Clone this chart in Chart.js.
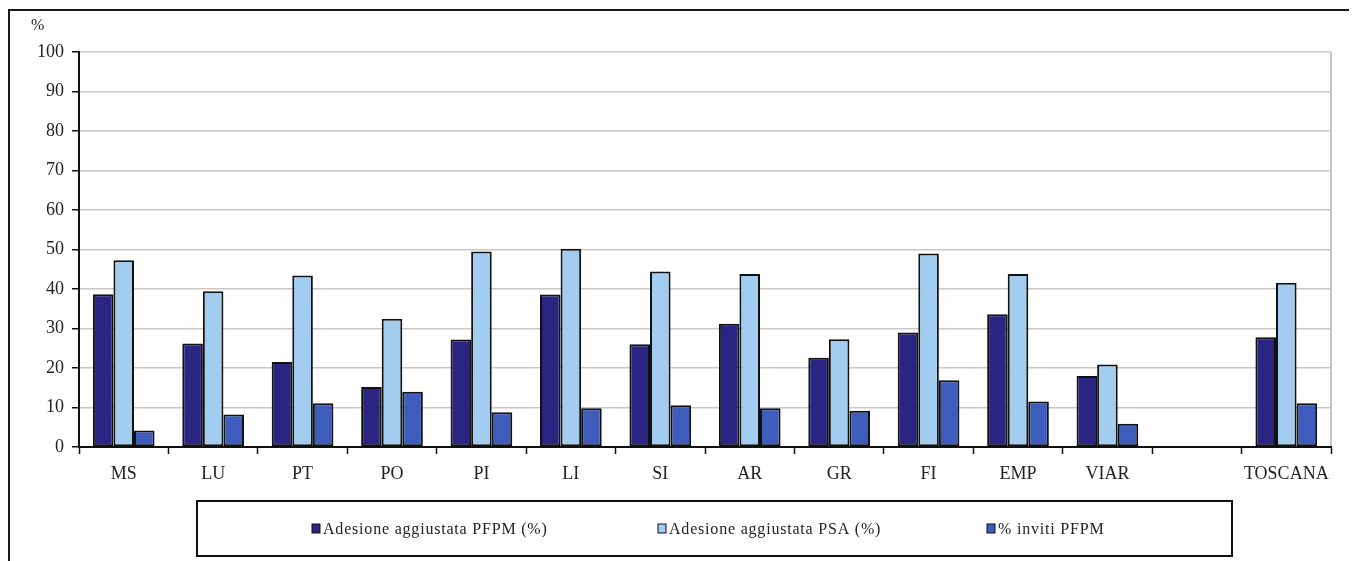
<!DOCTYPE html>
<html>
<head>
<meta charset="utf-8">
<script src="https://cdn.jsdelivr.net/npm/chart.js@4.4.1/dist/chart.umd.min.js"></script>
<style>
  html, body { margin: 0; padding: 0; background: #ffffff; }
  #wrap { position: relative; width: 1355px; height: 561px; }
</style>
</head>
<body>
<div id="wrap"><canvas id="c" width="1355" height="561"></canvas></div>
<script>
// Aree (ASL) con uno spazio vuoto prima del totale regionale
const areas = ['MS', 'LU', 'PT', 'PO', 'PI', 'LI', 'SI', 'AR', 'GR', 'FI', 'EMP', 'VIAR', '', 'TOSCANA'];

// Adesione aggiustata PFPM (%)
const adesionePFPM = [38.7, 26.2, 21.5, 15.2, 27.2, 38.6, 26.0, 31.2, 22.6, 29.0, 33.6, 18.0, null, 27.8];
// Adesione aggiustata PSA (%)
const adesionePSA = [47.3, 39.4, 43.4, 32.5, 49.5, 50.2, 44.4, 43.8, 27.3, 49.0, 43.8, 20.9, null, 41.6];
// % inviti PFPM
const invitiPFPM = [4.2, 8.2, 11.1, 14.0, 8.8, 9.8, 10.6, 9.8, 9.2, 16.9, 11.5, 5.9, null, 11.1];

// Asse Y: 0-100 a passi di 10
const yTicks = [0, 10, 20, 30, 40, 50, 60, 70, 80, 90, 100];

const seriesLabels = ['Adesione aggiustata PFPM (%)', 'Adesione aggiustata PSA (%)', '% inviti PFPM'];
const seriesColors = ['#2a2482', '#a2cdf1', '#3d5cbc'];

const serif = '"Liberation Serif", "DejaVu Serif", serif';

// Cornice esterna, bordo dell'area del grafico, simbolo "%" e legenda in riquadro
const framePlugin = {
  id: 'frame',
  beforeDraw(chart) {
    const ctx = chart.ctx;
    const a = chart.chartArea;
    ctx.save();
    ctx.fillStyle = '#ffffff';
    ctx.fillRect(0, 0, chart.width, chart.height);
    // cornice esterna (lati sinistro e superiore)
    ctx.strokeStyle = '#1a1a1a';
    ctx.lineWidth = 2;
    ctx.beginPath();
    ctx.moveTo(9, chart.height);
    ctx.lineTo(9, 10);
    ctx.lineTo(chart.width - 6, 10);
    ctx.stroke();
    // bordo destro dell'area del grafico
    ctx.strokeStyle = '#b9adad';
    ctx.lineWidth = 1.5;
    ctx.beginPath();
    ctx.moveTo(a.right, a.top);
    ctx.lineTo(a.right, a.bottom);
    ctx.stroke();
    ctx.restore();
  },
  afterDraw(chart) {
    const ctx = chart.ctx;
    ctx.save();
    // unità dell'asse Y
    ctx.fillStyle = '#222';
    ctx.font = '16px ' + serif;
    ctx.textAlign = 'left';
    ctx.textBaseline = 'middle';
    ctx.fillText('%', 31, 26);

    // riquadro della legenda
    const box = { x: 197, y: 501, w: 1035, h: 55 };
    ctx.strokeStyle = '#111';
    ctx.lineWidth = 2;
    ctx.strokeRect(box.x, box.y, box.w, box.h);

    const itemX = [312, 658, 987];
    const cy = box.y + box.h / 2;
    ctx.font = '16px ' + serif;
    ctx.letterSpacing = '0.8px';
    ctx.textBaseline = 'middle';
    chart.data.datasets.forEach((ds, i) => {
      const x = itemX[i];
      ctx.fillStyle = ds.backgroundColor;
      ctx.strokeStyle = '#111';
      ctx.lineWidth = 1;
      ctx.fillRect(x, cy - 4.5, 8, 9);
      ctx.strokeRect(x, cy - 4.5, 8, 9);
      ctx.fillStyle = '#222';
      ctx.fillText(ds.label, x + 11, cy + 1);
    });
    ctx.restore();
  }
};

const makeSet = (label, data, color) => ({
  label,
  data,
  backgroundColor: color,
  borderColor: '#111111',
  borderWidth: 2,
  borderSkipped: false,
  categoryPercentage: 0.69,
  barPercentage: 1.0
});

new Chart(document.getElementById('c'), {
  type: 'bar',
  data: {
    labels: areas,
    datasets: [
      makeSet(seriesLabels[0], adesionePFPM, seriesColors[0]),
      makeSet(seriesLabels[1], adesionePSA, seriesColors[1]),
      makeSet(seriesLabels[2], invitiPFPM, seriesColors[2])
    ]
  },
  options: {
    responsive: false,
    animation: false,
    devicePixelRatio: 1,
    layout: { padding: { left: 0, right: 24, top: 52, bottom: 74 } },
    plugins: {
      legend: { display: false },
      tooltip: { enabled: false }
    },
    scales: {
      x: {
        offset: true,
        grid: {
          offset: true,
          drawOnChartArea: false,
          drawTicks: true,
          tickLength: 7,
          tickColor: '#111',
          tickWidth: 1.5
        },
        border: { color: '#111', width: 2 },
        ticks: {
          color: '#222',
          font: { family: serif, size: 18 },
          padding: 9,
          maxRotation: 0,
          autoSkip: false
        },
        afterFit(scale) { scale.height = 40; }
      },
      y: {
        min: 0,
        max: 100,
        afterBuildTicks(scale) { scale.ticks = yTicks.map(v => ({ value: v })); },
        grid: {
          color: '#cfc5c5',
          lineWidth: 1.5,
          drawTicks: true,
          tickLength: 7,
          tickColor: '#111',
          tickWidth: 1.5
        },
        border: { color: '#111', width: 2 },
        ticks: {
          color: '#222',
          font: { family: serif, size: 18 },
          padding: 8
        },
        afterFit(scale) { scale.width = 79; }
      }
    }
  },
  plugins: [framePlugin]
});
</script>
</body>
</html>
